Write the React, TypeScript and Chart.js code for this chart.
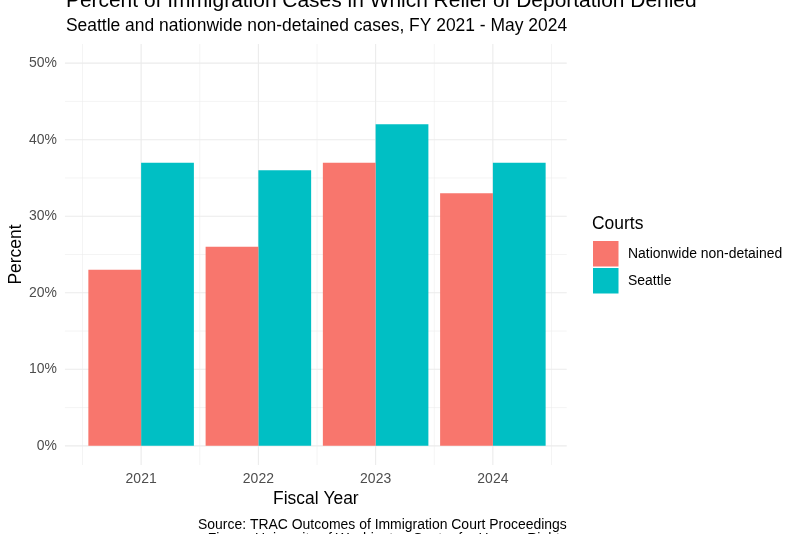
import React, { useEffect, useRef } from "react";
import { Chart, registerables } from "chart.js";

Chart.register(...registerables);

const years = ["2021", "2022", "2023", "2024"];
const nationwide = [23, 26, 37, 33];
const seattle = [37, 36, 42, 37];
const yTicks = [0, 10, 20, 30, 40, 50];
const seriesNames = ["Nationwide non-detained", "Seattle"];
const seriesColors = ["#F8766D", "#00BFC4"];

const FONT = "'Liberation Sans', Arial, Helvetica, sans-serif";

const ggPlugin = {
  id: "ggPlugin",
  beforeDatasetsDraw(chart: any) {
    const { ctx, chartArea, scales } = chart;
    const xs = scales.x;
    const ys = scales.y;
    const catW = xs.getPixelForValue(1) - xs.getPixelForValue(0);
    const left = xs.getPixelForValue(0) - 0.65 * catW;
    const right = xs.getPixelForValue(years.length - 1) + 0.63 * catW;
    const top = chartArea.top;
    const bottom = chartArea.bottom;
    ctx.save();
    ctx.strokeStyle = "#EBEBEB";
    ctx.lineWidth = 0.55;
    for (let v = 5; v < 50; v += 10) {
      const y = ys.getPixelForValue(v);
      ctx.beginPath();
      ctx.moveTo(left, y);
      ctx.lineTo(right, y);
      ctx.stroke();
    }
    for (let i = 0; i <= years.length; i++) {
      const x = xs.getPixelForValue(i) - catW / 2;
      ctx.beginPath();
      ctx.moveTo(x, top);
      ctx.lineTo(x, bottom);
      ctx.stroke();
    }
    ctx.lineWidth = 1.1;
    yTicks.forEach((v) => {
      const y = ys.getPixelForValue(v);
      ctx.beginPath();
      ctx.moveTo(left, y);
      ctx.lineTo(right, y);
      ctx.stroke();
    });
    years.forEach((_, i) => {
      const x = xs.getPixelForValue(i);
      ctx.beginPath();
      ctx.moveTo(x, top);
      ctx.lineTo(x, bottom);
      ctx.stroke();
    });
    ctx.restore();
  },
  afterDraw(chart: any) {
    const { ctx, chartArea, scales } = chart;
    const xs = scales.x;
    const catW = xs.getPixelForValue(1) - xs.getPixelForValue(0);
    const left = xs.getPixelForValue(0) - 0.65 * catW;
    const right = xs.getPixelForValue(years.length - 1) + 0.63 * catW;
    ctx.save();
    ctx.fillStyle = "#000000";
    ctx.textBaseline = "alphabetic";
    ctx.textAlign = "left";
    ctx.font = `20.95px ${FONT}`;
    ctx.fillText("Percent of Immigration Cases in Which Relief of Deportation Denied", left + 1, 7);
    ctx.font = `17.45px ${FONT}`;
    ctx.fillText("Seattle and nationwide non-detained cases, FY 2021 - May 2024", left + 1, 31);
    ctx.textAlign = "center";
    ctx.fillText("Fiscal Year", (left + right) / 2, 504);
    ctx.save();
    ctx.translate(21, (chartArea.top + chartArea.bottom) / 2);
    ctx.rotate(-Math.PI / 2);
    ctx.fillText("Percent", 0, 0);
    ctx.restore();
    ctx.textAlign = "right";
    ctx.font = `13.95px ${FONT}`;
    ctx.fillText("Source: TRAC Outcomes of Immigration Court Proceedings", right, 529);
    ctx.fillText("Figure: University of Washington Center for Human Rights", right, 543);
    ctx.textAlign = "left";
    ctx.font = `17.45px ${FONT}`;
    ctx.fillText("Courts", 592, 229);
    const keyX = 592.5;
    const keyY = 240.5;
    const keyS = 26.5;
    ctx.font = `13.95px ${FONT}`;
    seriesNames.forEach((name, i) => {
      const y0 = keyY + i * (keyS + 0.5);
      ctx.fillStyle = seriesColors[i];
      ctx.fillRect(keyX + 0.5, y0 + 0.5, keyS - 1, keyS - 1);
      ctx.fillStyle = "#000000";
      ctx.textBaseline = "middle";
      ctx.fillText(name, 628, y0 + keyS / 2);
    });
    ctx.restore();
  },
};

export default function App() {
  const ref = useRef<HTMLCanvasElement | null>(null);
  useEffect(() => {
    if (!ref.current) return;
    const chart = new Chart(ref.current, {
      type: "bar",
      data: {
        labels: years,
        datasets: [
          {
            label: seriesNames[0],
            data: nationwide,
            backgroundColor: seriesColors[0],
            barPercentage: 1,
            categoryPercentage: 0.9,
          },
          {
            label: seriesNames[1],
            data: seattle,
            backgroundColor: seriesColors[1],
            barPercentage: 1,
            categoryPercentage: 0.9,
          },
        ],
      },
      options: {
        responsive: false,
        animation: false,
        devicePixelRatio: 1,
        layout: { padding: { top: 44, right: 248.5, bottom: 0, left: 0 } },
        plugins: {
          legend: { display: false },
          tooltip: { enabled: false },
          title: { display: false },
        },
        scales: {
          x: {
            type: "category",
            grid: { display: false, drawTicks: false },
            border: { display: false },
            ticks: {
              color: "#4D4D4D",
              font: { family: FONT, size: 13.95 },
              padding: 6,
              maxRotation: 0,
            },
            afterFit(scale: any) {
              scale.height = 69;
            },
          },
          y: {
            min: -2.5,
            max: 52.5,
            grid: { display: false, drawTicks: false },
            border: { display: false },
            afterBuildTicks(scale: any) {
              scale.ticks = yTicks.map((v) => ({ value: v }));
            },
            ticks: {
              color: "#4D4D4D",
              font: { family: FONT, size: 13.95 },
              padding: 25.5,
              callback: (v: any) => `${v}%`,
            },
            afterFit(scale: any) {
              scale.width = 82.5;
            },
          },
        },
      },
      plugins: [ggPlugin],
    });
    return () => chart.destroy();
  }, []);
  return (
    <div style={{ position: "absolute", left: 0, top: 0, width: 800, height: 534, background: "#ffffff" }}>
      <canvas ref={ref} width={800} height={534} style={{ display: "block" }} />
    </div>
  );
}
